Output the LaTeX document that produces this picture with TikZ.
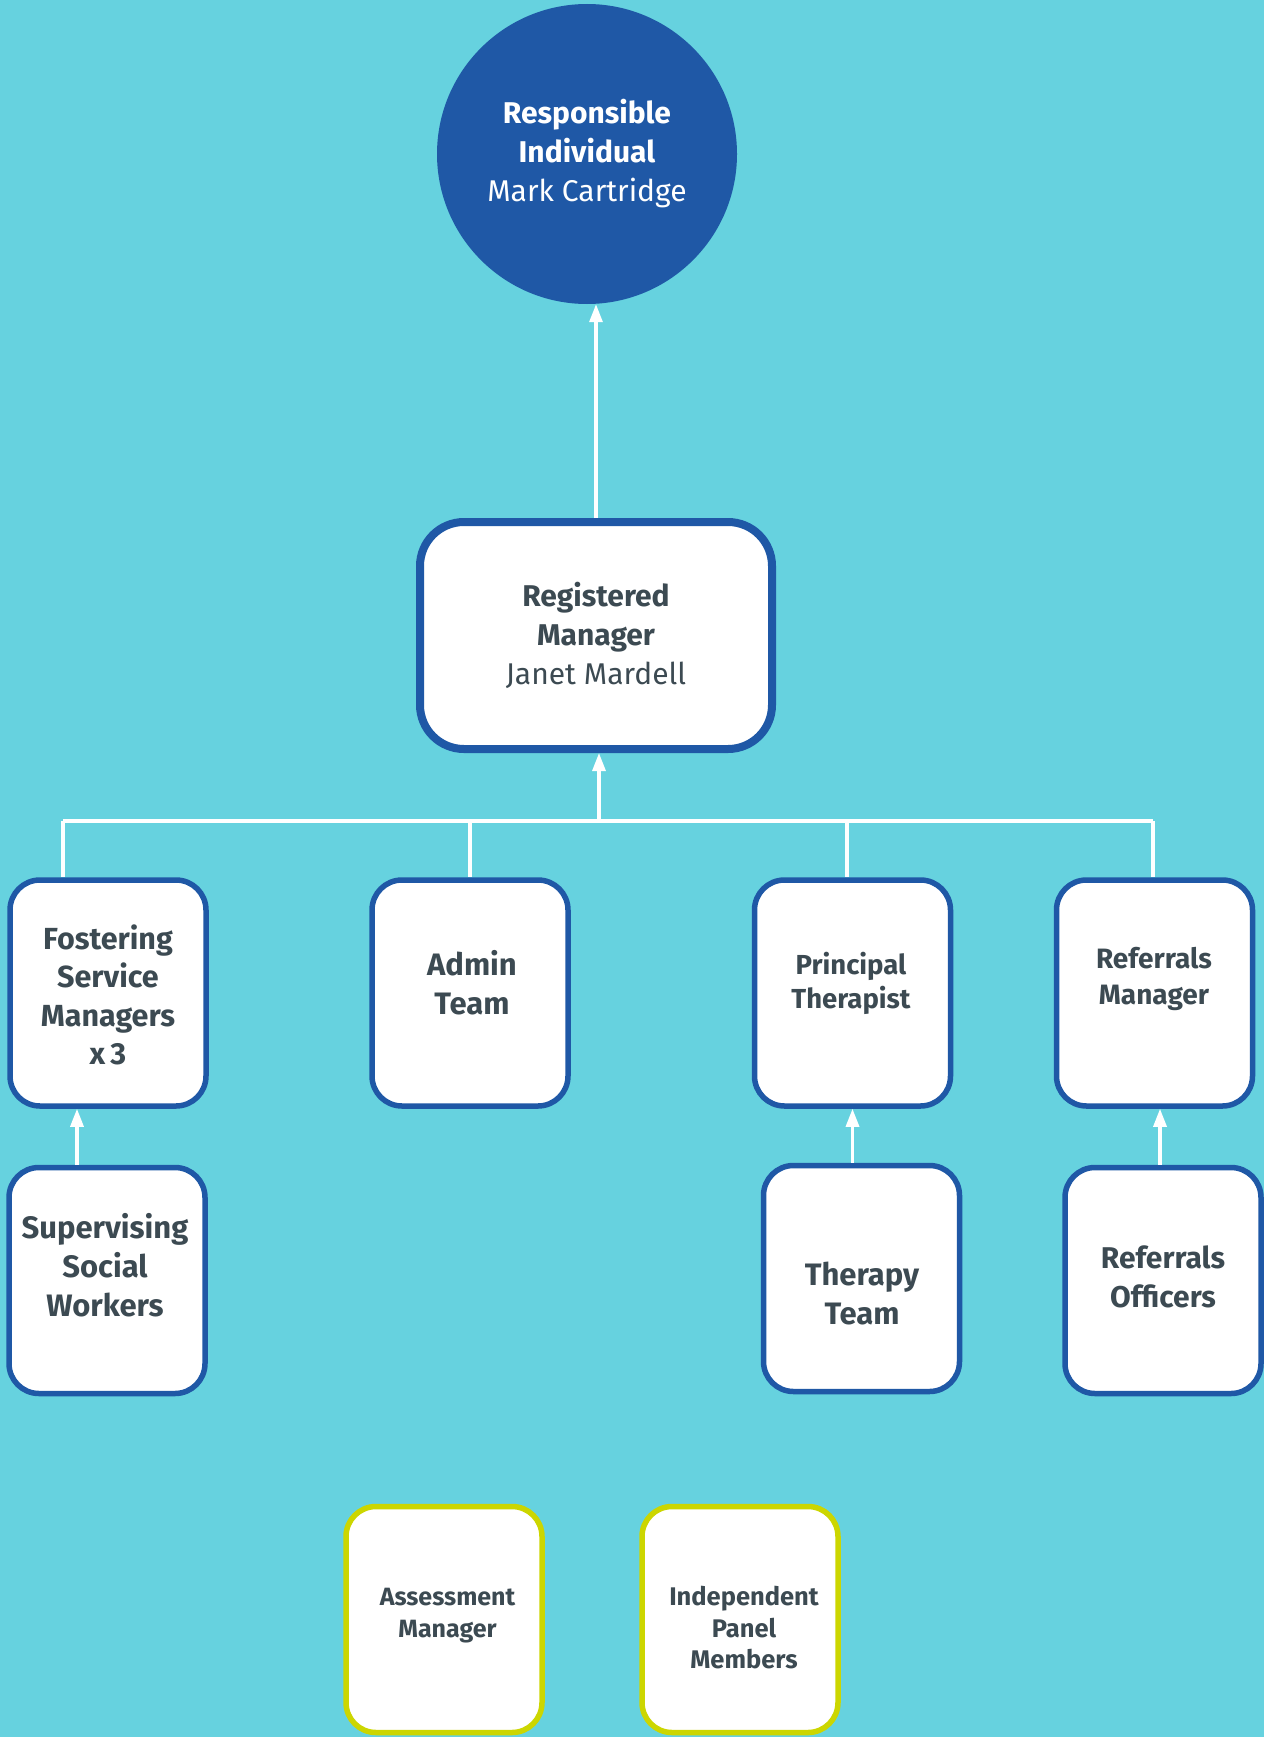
\documentclass[tikz,border=0pt]{standalone}
\usepackage{fontspec}
\setmainfont{Fira Sans}
\usetikzlibrary{arrows.meta}
\definecolor{bgcyan}{RGB}{102,210,223}
\definecolor{orgblue}{RGB}{31,88,166}
\definecolor{txtgrey}{RGB}{60,74,82}
\definecolor{panelyellow}{RGB}{204,214,0}
\tikzset{
  role/.style={draw=orgblue, line width=5.5pt, fill=white, rounded corners=30pt,
    minimum width=196pt, minimum height=226pt},
  panel/.style={role, draw=panelyellow},
  roletext/.style={text=txtgrey, align=center, font=\bfseries\fontsize{31}{39}\selectfont},
  link/.style={white, line width=3.2pt},
  up/.style={link, -{Triangle[length=18pt,width=13pt]}},
}
\begin{document}
\begin{tikzpicture}[x=1pt, y=-1pt]
\fill[bgcyan] (0,0) rectangle (1264,1737);
\useasboundingbox (0,0) rectangle (1264,1737);
% top of the chart
\node (RI) [circle, fill=orgblue, minimum size=300pt, inner sep=0pt, text=white, align=center,
  font=\fontsize{30}{39}\selectfont] at (587,154) {\textbf{Responsible}\\\textbf{Individual}\\Mark Cartridge};
\node (RM) [role, line width=8pt, rounded corners=44pt, minimum width=352pt, minimum height=227pt,
  text=txtgrey, align=center, font=\fontsize{30}{39}\selectfont] at (596,635.5) {\textbf{Registered}\\\textbf{Manager}\\Janet Mardell};
\draw[up] (RM.north) -- (RM.north |- RI.south);
% managers
\node (FSM) [role] at (108,993) {};
\node (FSM_t) [roletext, font=\bfseries\fontsize{30.5}{38.5}\selectfont] at (108,995) {Fostering\\Service\\Managers\\x\,3};
\node (ADM) [role] at (470,993) {};
\node (ADM_t) [roletext] at (472,983) {Admin\\Team};
\node (PT) [role] at (852.5,993) {};
\node (PT_t) [roletext, font=\bfseries\fontsize{27.5}{34}\selectfont] at (851,983) {Principal\\Therapist};
\node (REFM) [role] at (1154.5,993) {};
\node (REFM_t) [roletext, font=\bfseries\fontsize{28}{36.5}\selectfont] at (1154,979) {Referrals\\Manager};
% bus to the registered manager
\coordinate (busL) at (63,821);
\coordinate (busM) at (599,821);
\coordinate (busP) at (847,821);
\coordinate (busR) at (1153,821);
\draw[link] (busL) -- (busR);
\draw[up] (busM) -- (busM |- RM.south);
\draw[link] (busL) -- (busL |- FSM.north);
\draw[link] (ADM.north |- busL) -- (ADM.north);
\draw[link] (busP) -- (busP |- PT.north);
\draw[link] (busR) -- (busR |- REFM.north);
% teams
\node (SSW) [role] at (107,1280.5) {};
\node (SSW_t) [roletext] at (105,1265) {Supervising\\Social\\Workers};
\node (TT) [role] at (861.5,1278.5) {};
\node (TT_t) [roletext] at (862,1293.5) {Therapy\\Team};
\node (REFO) [role] at (1163,1280.5) {};
\node (REFO_t) [roletext, font=\bfseries\fontsize{30}{39}\selectfont] at (1163,1276.5) {Referrals\\Officers};
\draw[up] ([xshift=-30pt]SSW.north) -- ([xshift=-30pt]SSW.north |- FSM.south);
\draw[up] (PT.south |- TT.north) -- (PT.south);
\draw[up] ([xshift=-3pt]REFO.north) -- ([xshift=-3pt]REFO.north |- REFM.south);
% panel
\node (AM) [panel] at (444,1619.5) {};
\node (AM_t) [roletext, font=\bfseries\fontsize{25}{32}\selectfont] at (447.5,1616) {Assessment\\Manager};
\node (IPM) [panel] at (740,1619.5) {};
\node (IPM_t) [roletext, font=\bfseries\fontsize{25.5}{31.5}\selectfont] at (744,1628) {Independent\\Panel\\Members};
\end{tikzpicture}
\end{document}
